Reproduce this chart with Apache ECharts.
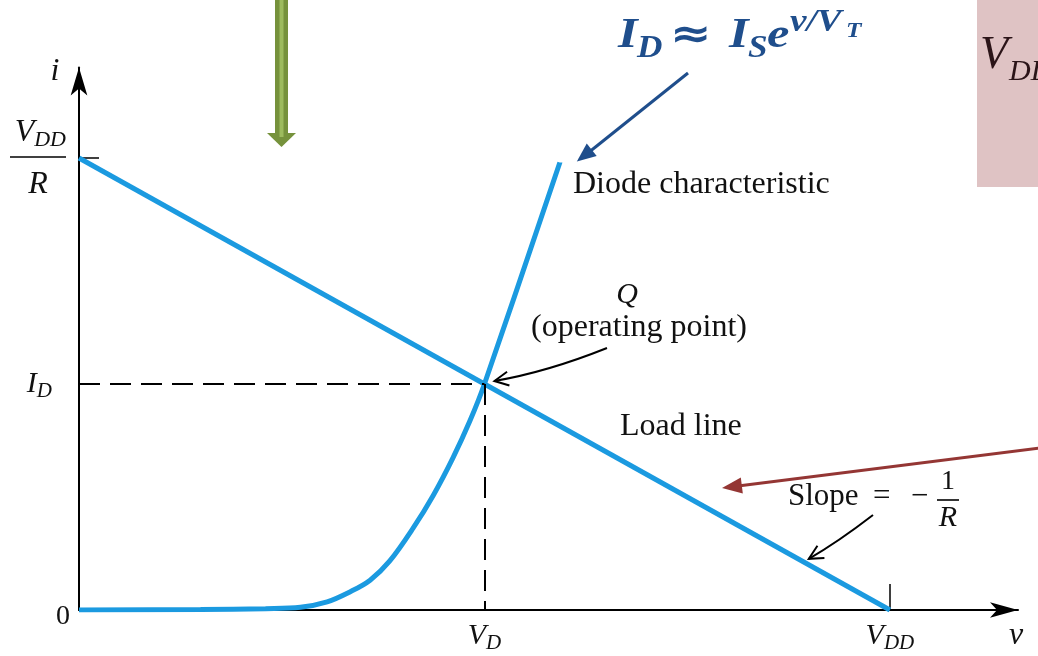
<!DOCTYPE html>
<html>
<head>
<meta charset="utf-8">
<script src="https://cdn.jsdelivr.net/npm/echarts@6/dist/echarts.min.js"></script>
<style>
  html, body { margin: 0; padding: 0; background: #fff; }
  #chart { width: 1038px; height: 656px; }
</style>
</head>
<body>
<div id="chart"></div>
<script>
// Load line i = (V_DD - v) / R, drawn with V_DD = 10 and R = 1
const loadLine = [[0, 10], [10, 0]];
// Diode exponential characteristic (v, i)
const diodeCurve = [
  [0, 0], [1.5, 0.01], [2.3, 0.03], [2.73, 0.06], [3.06, 0.18], [3.34, 0.4],
  [3.59, 0.66], [3.83, 1.08], [4.12, 1.81], [4.37, 2.54], [4.61, 3.36],
  [4.82, 4.18], [5, 5], [5.93, 9.9]
];
// Operating point Q = (V_D, I_D)
const qPoint = [5, 5];
// Axis tick values and their labels
const xTickValues = [5, 10];
const xTickLabels = ['{v|V}{s|D}', '{v|V}{s|DD}'];
const yTickValues = [0, 5, 10];
const yTickLabels = ['{z|0}', '{v|I}{s|D}{gapI|}', '{fv|V}{fs|DD}{gap|}\n{bar|}{gap|}\n{fr|R}{gap|}'];

const SERIF = '"Liberation Serif", "Times New Roman", serif';
const BLUE = '#1b9ae0';
const INK = '#111';
const NAVY = '#1f4e8c';

const chart = echarts.init(document.getElementById('chart'));

const option = {
  animation: false,
  backgroundColor: '#fff',
  grid: { left: 79, right: 20, top: 67.6, bottom: 46 },
  xAxis: {
    type: 'value', min: 0, max: 11.58,
    axisLine: { show: true, symbol: ['none', 'arrow'], symbolSize: [11.5, 28], lineStyle: { color: '#000', width: 2 } },
    axisTick: { show: true, inside: true, length: 26, customValues: [10], lineStyle: { color: '#000', width: 1.5 } },
    axisLabel: {
      show: true, customValues: xTickValues, margin: 9,
      formatter: v => xTickLabels[xTickValues.indexOf(v)] || '',
      rich: {
        v: { fontFamily: SERIF, fontStyle: 'italic', fontSize: 30, color: INK },
        s: { fontFamily: SERIF, fontStyle: 'italic', fontSize: 21, color: INK, padding: [14, 0, 0, 0] }
      }
    },
    splitLine: { show: false }
  },
  yAxis: {
    type: 'value', min: 0, max: 12,
    axisLine: { show: true, symbol: ['none', 'arrow'], symbolSize: [12.5, 28], lineStyle: { color: '#000', width: 2 } },
    axisTick: { show: true, inside: true, length: 20, customValues: [10], lineStyle: { color: '#000', width: 1.5 } },
    axisLabel: {
      show: true, customValues: yTickValues, margin: 9,
      formatter: v => yTickLabels[yTickValues.indexOf(v)] || '',
      rich: {
        z: { fontFamily: SERIF, fontSize: 28, color: INK, padding: [14, 0, 0, 0] },
        v: { fontFamily: SERIF, fontStyle: 'italic', fontSize: 30, color: INK },
        s: { fontFamily: SERIF, fontStyle: 'italic', fontSize: 21, color: INK, padding: [14, 0, 0, 0] },
        gapI: { width: 18 },
        gap: { width: 4 },
        fv: { fontFamily: SERIF, fontStyle: 'italic', fontSize: 32, color: INK },
        fs: { fontFamily: SERIF, fontStyle: 'italic', fontSize: 22, color: INK, padding: [14, 0, 0, 0] },
        bar: { width: 56, height: 1.6, backgroundColor: '#000' },
        fr: { fontFamily: SERIF, fontStyle: 'italic', fontSize: 32, color: INK, width: 56, align: 'center', padding: [6, 0, 0, 0] }
      }
    },
    splitLine: { show: false }
  },
  series: [
    {
      name: 'Load line', type: 'line', data: loadLine, showSymbol: false, silent: true,
      lineStyle: { color: BLUE, width: 5 }, z: 3,
      markLine: {
        silent: true, symbol: 'none', label: { show: false },
        lineStyle: { color: '#000', width: 2, type: [21, 10] },
        emphasis: { disabled: true },
        data: [
          [{ coord: [0, qPoint[1]] }, { coord: qPoint }],
          [{ coord: qPoint }, { coord: [qPoint[0], 0] }]
        ]
      }
    },
    {
      name: 'Diode characteristic', type: 'line', data: diodeCurve, showSymbol: false, silent: true,
      smooth: 0.35,
      lineStyle: { color: BLUE, width: 5 }, z: 4
    }
  ]
};
chart.setOption(option);

const toPx = p => chart.convertToPixel({ gridIndex: 0 }, p);

// Arrowhead at `tip`, pointing away from `from`
function arrowHead(tip, from, len, halfW, color, filled, lw) {
  const a = Math.atan2(tip[1] - from[1], tip[0] - from[0]);
  const bx = tip[0] - len * Math.cos(a), by = tip[1] - len * Math.sin(a);
  const ox = -Math.sin(a) * halfW, oy = Math.cos(a) * halfW;
  const p1 = [bx + ox, by + oy], p2 = [bx - ox, by - oy];
  if (filled) {
    return { type: 'polygon', z: 100, silent: true, shape: { points: [tip, p1, p2] }, style: { fill: color } };
  }
  return { type: 'polyline', z: 100, silent: true, shape: { points: [p1, tip, p2] }, style: { stroke: color, lineWidth: lw, fill: null } };
}

function curvedArrow(start, ctrl, tip, color, lw) {
  return [
    { type: 'bezierCurve', z: 100, silent: true,
      shape: { x1: start[0], y1: start[1], cpx1: ctrl[0], cpy1: ctrl[1], x2: tip[0], y2: tip[1] },
      style: { stroke: color, lineWidth: lw, fill: null } },
    arrowHead(tip, ctrl, 14, 7, color, false, lw)
  ];
}

function text(x, y, str, font, opts, scaleX) {
  return { type: 'text', z: 100, silent: true, x: x, y: y, scaleX: scaleX || 1,
    style: Object.assign({ text: str, font: font, fill: INK, align: 'left', verticalAlign: 'middle' }, opts || {}) };
}

const qPx = toPx(qPoint);
const diodeTopPx = toPx(diodeCurve[diodeCurve.length - 1]);
const onLoadPx = toPx([9, 1]);

const qTip = [qPx[0] + 10, qPx[1] - 3];
const slopeTip = [onLoadPx[0], onLoadPx[1] - 6];
const formulaTip = [diodeTopPx[0] + 17, diodeTopPx[1] - 1];

// bold italic pieces of the diode equation
const eq = (x, y, str, size, sx) =>
  text(x, y, str, 'italic bold ' + size + 'px ' + SERIF, { fill: NAVY }, sx);

const graphics = [
  // green downward arrow
  { type: 'rect', z: 100, silent: true, shape: { x: 275, y: 0, width: 13, height: 134 }, style: { fill: '#76923c' } },
  { type: 'rect', z: 101, silent: true, shape: { x: 279.5, y: 0, width: 4, height: 137 }, style: { fill: '#9dbb5e' } },
  { type: 'polygon', z: 100, silent: true, shape: { points: [[267, 133], [296, 133], [281.5, 147]] }, style: { fill: '#76923c' } },

  // pink panel at the right edge
  { type: 'rect', z: 90, silent: true, shape: { x: 977, y: 0, width: 61, height: 187 }, style: { fill: '#dfc3c4' } },
  text(980, 56, 'V', 'italic 46px ' + SERIF, { fill: '#2b1418' }),
  text(1009, 72, 'DD', 'italic 30px ' + SERIF, { fill: '#2b1418' }),

  // diode equation  I_D ≈ I_S e^{v/V_T}
  eq(618, 36, 'I', 42, 1.2),
  eq(637, 49, 'D', 32, 1.1),
  text(670, 37, '\u2248', 'bold 40px "DejaVu Sans"', { fill: NAVY }, 1.25),
  eq(729, 36, 'I', 42, 1.2),
  eq(748, 49, 'S', 32, 1.1),
  eq(767, 36, 'e', 42, 1.2),
  eq(790, 23, 'v/V', 31, 1.2),
  eq(846, 31, 'T', 22, 1.15),
  { type: 'line', z: 100, silent: true, shape: { x1: 688, y1: 73, x2: formulaTip[0] + 8, y2: formulaTip[1] - 6 }, style: { stroke: NAVY, lineWidth: 3 } },
  arrowHead(formulaTip, [688, 73], 19, 8, NAVY, true),

  // red pointer towards the load line
  { type: 'line', z: 100, silent: true, shape: { x1: 1040, y1: 448, x2: 738, y2: 486 }, style: { stroke: '#943634', lineWidth: 3 } },
  arrowHead([722, 488], [1040, 448], 20, 8, '#943634', true),

  // curve annotations
  text(573, 185, 'Diode characteristic', '32px ' + SERIF),
  text(627, 295, 'Q', 'italic 30px ' + SERIF, { align: 'center' }),
  text(639, 328, '(operating point)', '32px ' + SERIF, { align: 'center' }),
  text(620, 427, 'Load line', '32px ' + SERIF),
  text(788, 497, 'Slope', '31px ' + SERIF),
  text(873, 497, '=', '31px ' + SERIF),
  text(911, 497, '\u2212', '31px ' + SERIF),
  text(948, 482, '1', '28px ' + SERIF, { align: 'center' }),
  { type: 'line', z: 100, silent: true, shape: { x1: 937, y1: 500, x2: 959, y2: 500 }, style: { stroke: '#000', lineWidth: 1.6 } },
  text(948, 518, 'R', 'italic 30px ' + SERIF, { align: 'center' }),

  // axis names
  text(55, 72, 'i', 'italic 32px ' + SERIF, { align: 'center' }),
  text(1016, 636, 'v', 'italic 32px ' + SERIF, { align: 'center' })
];

graphics.push.apply(graphics, curvedArrow([607, 348], [547, 372], qTip, '#000', 2));
graphics.push.apply(graphics, curvedArrow([873, 515], [838, 542], slopeTip, '#000', 2));

chart.setOption({ graphic: graphics });
</script>
</body>
</html>
